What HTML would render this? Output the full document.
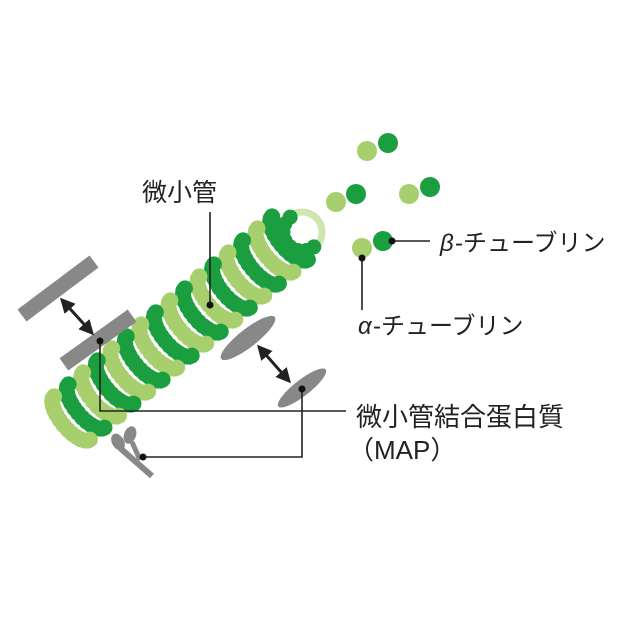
<!DOCTYPE html>
<html><head><meta charset="utf-8"><style>
html,body{margin:0;padding:0;background:#fff;}
svg{display:block}
text{font-family:"Liberation Sans","Noto Sans CJK JP",sans-serif;fill:#222;}
</style></head><body>
<svg id="s" width="624" height="624" viewBox="0 0 624 624" xmlns="http://www.w3.org/2000/svg">
<defs>
<marker id="ah" viewBox="0 0 10 10" refX="8" refY="5" markerWidth="5" markerHeight="5" orient="auto-start-reverse"><path d="M0,0 L10,5 L0,10 z" fill="#222"/></marker>
</defs>
<line x1="28" y1="311" x2="88" y2="266" stroke="#888" stroke-width="15" stroke-linecap="square"/>
<circle cx="302" cy="232" r="20" fill="none" stroke="#cfe6b0" stroke-width="7"/>
<g id="tube"></g>
<line x1="70" y1="360" x2="126" y2="320" stroke="#888" stroke-width="15" stroke-linecap="square"/>
<ellipse cx="248" cy="338" rx="34" ry="9" transform="rotate(-38 248 338)" fill="#888"/>
<ellipse cx="302" cy="388" rx="30" ry="8" transform="rotate(-38 302 388)" fill="#888"/>
<g fill="#888">
<ellipse cx="118" cy="442" rx="6" ry="9" transform="rotate(-30 118 442)"/>
<ellipse cx="130" cy="435" rx="6" ry="9" transform="rotate(20 130 435)"/>
<line x1="120" y1="448" x2="152" y2="476" stroke="#888" stroke-width="6"/>
<line x1="132" y1="442" x2="140" y2="460" stroke="#888" stroke-width="5"/>
</g>
<line x1="62" y1="300" x2="92" y2="333" stroke="#222" stroke-width="3" marker-start="url(#ah)" marker-end="url(#ah)"/>
<line x1="259" y1="347" x2="289" y2="381" stroke="#222" stroke-width="3" marker-start="url(#ah)" marker-end="url(#ah)"/>
<g>
<circle cx="367" cy="151" r="10" fill="#a8cf6e"/><circle cx="388" cy="143" r="10" fill="#1a9e3f"/>
<circle cx="336" cy="202" r="10" fill="#a8cf6e"/><circle cx="356" cy="194" r="10" fill="#1a9e3f"/>
<circle cx="409" cy="194" r="10" fill="#a8cf6e"/><circle cx="430" cy="187" r="10" fill="#1a9e3f"/>
<circle cx="362" cy="248" r="10" fill="#a8cf6e"/><circle cx="383" cy="241" r="10" fill="#1a9e3f"/>
</g>
<g stroke="#222" stroke-width="1.6" fill="none">
<polyline points="100,341 100,411 346,411"/>
<polyline points="302,389 302,457 143,457"/>
<line x1="210" y1="212" x2="210" y2="305"/>
<line x1="392" y1="241" x2="430" y2="241"/>
<line x1="362" y1="258" x2="362" y2="310"/>
</g>
<g fill="#111">
<circle cx="100" cy="341" r="3.5"/><circle cx="302" cy="389" r="3.5"/><circle cx="143" cy="457" r="3.5"/>
<circle cx="210" cy="305" r="3.5"/><circle cx="392" cy="241" r="3.5"/><circle cx="362" cy="258" r="3.5"/>
</g>
<text x="142" y="201" font-size="25">微小管</text>
<text x="440" y="251" font-size="24" font-style="italic">β</text><text x="455" y="251" font-size="24">-チューブリン</text>
<text x="358" y="334" font-size="24" font-style="italic">α</text><text x="373" y="334" font-size="24">-チューブリン</text>
<text x="356" y="426" font-size="26">微小管結合蛋白質</text>
<text x="348" y="459" font-size="26">（MAP）</text>
</svg>
<script>
(function(){
var g=document.getElementById('tube'),NS='http://www.w3.org/2000/svg';
function c(x,y,r,f){var e=document.createElementNS(NS,'circle');e.setAttribute('cx',x.toFixed(1));e.setAttribute('cy',y.toFixed(1));e.setAttribute('r',r);e.setAttribute('fill',f);g.appendChild(e);}
var x0=72,y0=418,x1=290,y1=238,N=16;
var ux=0.77,uy=-0.64,vx=0.64,vy=0.77;
var tx=302,ty=232;
for(var k=0;k<14;k++){var th=k/14*2*Math.PI;if(th>4.4||th<0.5)continue;c(tx+19*Math.cos(th),ty+19*Math.sin(th),7.5,'#1a9e3f');}
for(var i=N-1;i>=0;i--){
 var t=i/(N-1);var cx=x0+(x1-x0)*t,cy=y0+(y1-y0)*t;
 var col=(i%2==0)?'#a8cf6e':'#1a9e3f';
 for(var k=0;k<=14;k++){var th=Math.PI*0.5+k/14*Math.PI;
  var ca=Math.cos(th),sa=Math.sin(th);
  var px=cx+28*sa*vx+11*ca*ux, py=cy+28*sa*vy+11*ca*uy;
  c(px,py,8,col);}
}
})();
</script>
</body></html>
